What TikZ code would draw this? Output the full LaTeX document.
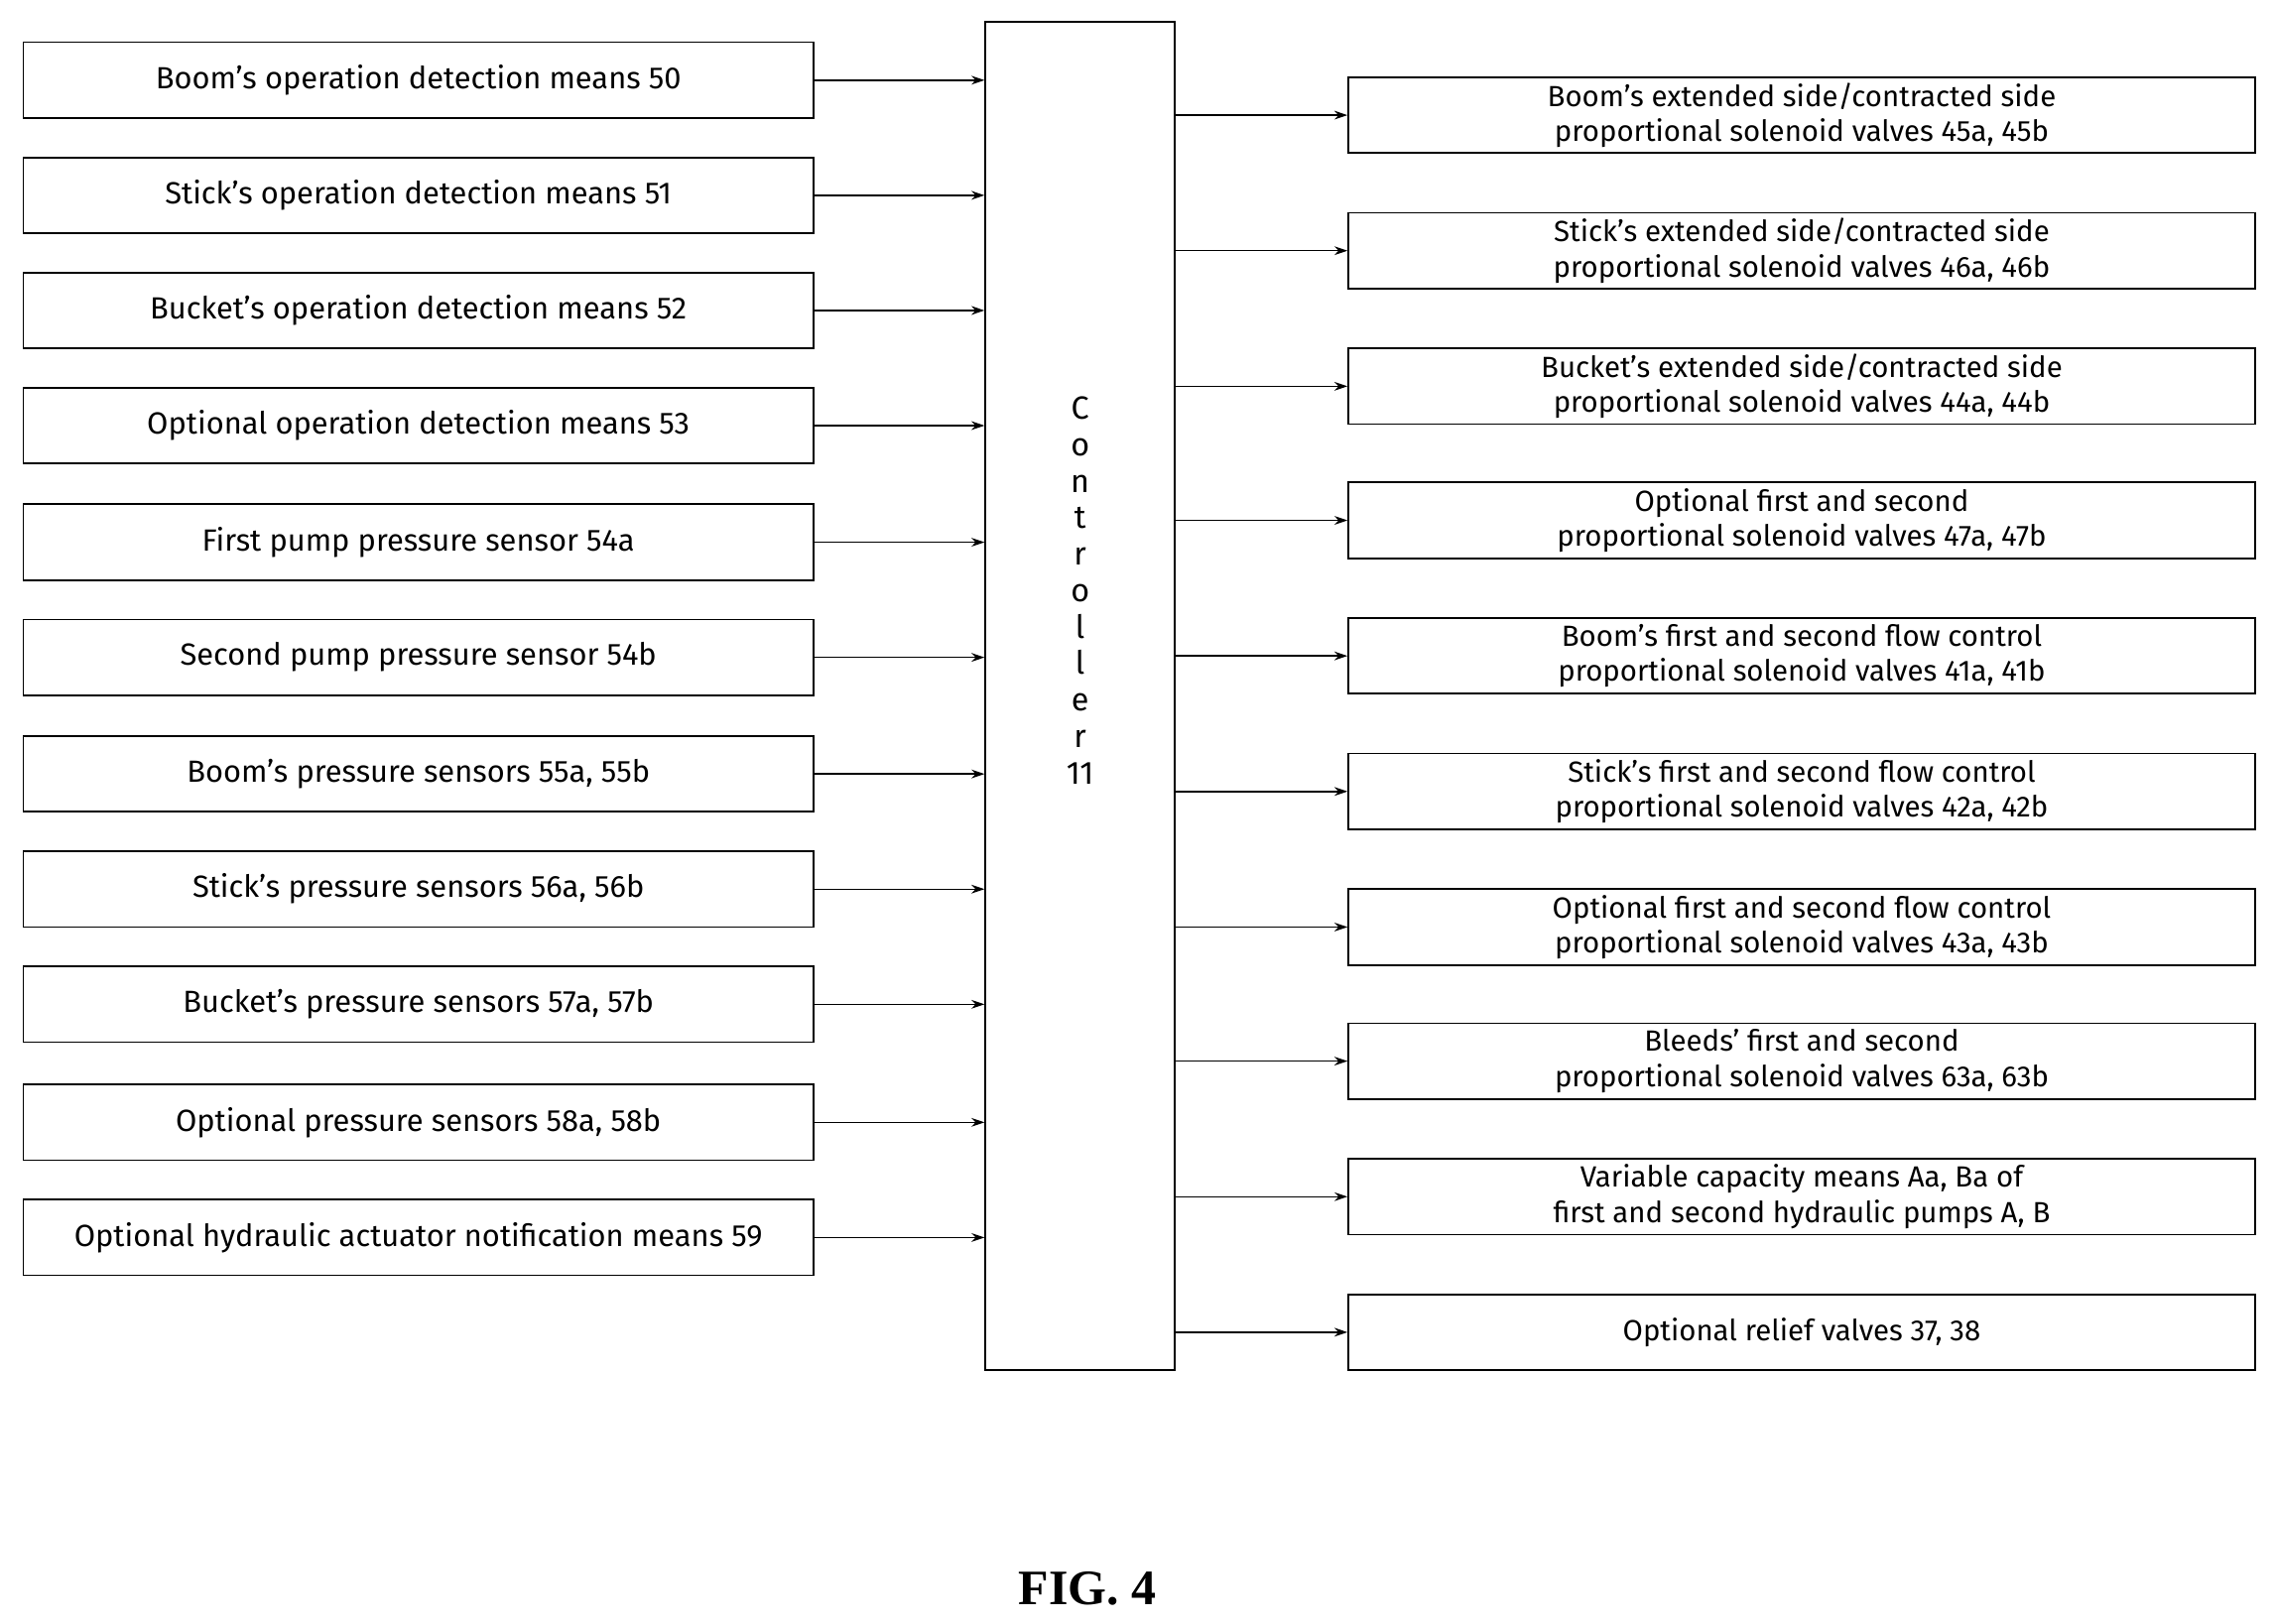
\documentclass[tikz,border=0pt]{standalone}
\usepackage{fontspec}
\setmainfont{Fira Sans}
\usetikzlibrary{arrows.meta}
\begin{document}
\begin{tikzpicture}[x=1pt,y=-1pt,
 box/.style={draw,line width=1.2pt,minimum height=52pt,align=center,font=\fontsize{21}{24}\selectfont,inner sep=0pt},
 lbox/.style={box,minimum width=542pt},
 rbox/.style={box,minimum width=622pt,font=\fontsize{20}{24}\selectfont},
 arr/.style={-{Stealth[length=9pt,width=6pt]},line width=1pt}]
\useasboundingbox (0,0) rectangle (1560,1114);
\node[draw,line width=1.2pt,minimum width=130pt,minimum height=925pt,inner sep=0pt] (c) at (741,477.5) {};
\node[align=center,font=\fontsize{22}{25}\selectfont] (ct) at (741,405) {C\\o\\n\\t\\r\\o\\l\\l\\e\\r\\11};
\foreach \i/\y/\t in {
 1/55/Boom's operation detection means 50,
 2/134/Stick's operation detection means 51,
 3/213/Bucket's operation detection means 52,
 4/292/Optional operation detection means 53,
 5/372/First pump pressure sensor 54a,
 6/451/Second pump pressure sensor 54b,
 7/531/{Boom's pressure sensors 55a, 55b},
 8/610/{Stick's pressure sensors 56a, 56b},
 9/689/{Bucket's pressure sensors 57a, 57b},
 10/770/{Optional pressure sensors 58a, 58b},
 11/849/Optional hydraulic actuator notification means 59}{
 \node[lbox] (l\i) at (287,\y) {\t};
 \coordinate (le\i) at (c.west |- l\i.east);
 \draw[arr] (l\i.east) -- (le\i);
}
\foreach \i/\y/\t in {
 1/79/{Boom's extended side/contracted side\\proportional solenoid valves 45a, 45b},
 2/172/{Stick's extended side/contracted side\\proportional solenoid valves 46a, 46b},
 3/265/{Bucket's extended side/contracted side\\proportional solenoid valves 44a, 44b},
 4/357/{Optional first and second\\proportional solenoid valves 47a, 47b},
 5/450/{Boom's first and second flow control\\proportional solenoid valves 41a, 41b},
 6/543/{Stick's first and second flow control\\proportional solenoid valves 42a, 42b},
 7/636/{Optional first and second flow control\\proportional solenoid valves 43a, 43b},
 8/728/{Bleeds' first and second\\proportional solenoid valves 63a, 63b},
 9/821/{Variable capacity means Aa, Ba of\\first and second hydraulic pumps A, B},
 10/914/{Optional relief valves 37, 38}}{
 \node[rbox] (r\i) at (1236,\y) {\t};
 \coordinate (rs\i) at (c.east |- r\i.west);
 \draw[arr] (rs\i) -- (r\i.west);
}
\node[font=\fontspec{Liberation Serif}\bfseries\fontsize{34}{38}\selectfont] (fig) at (746,1090) {FIG. 4};
\end{tikzpicture}
\end{document}
